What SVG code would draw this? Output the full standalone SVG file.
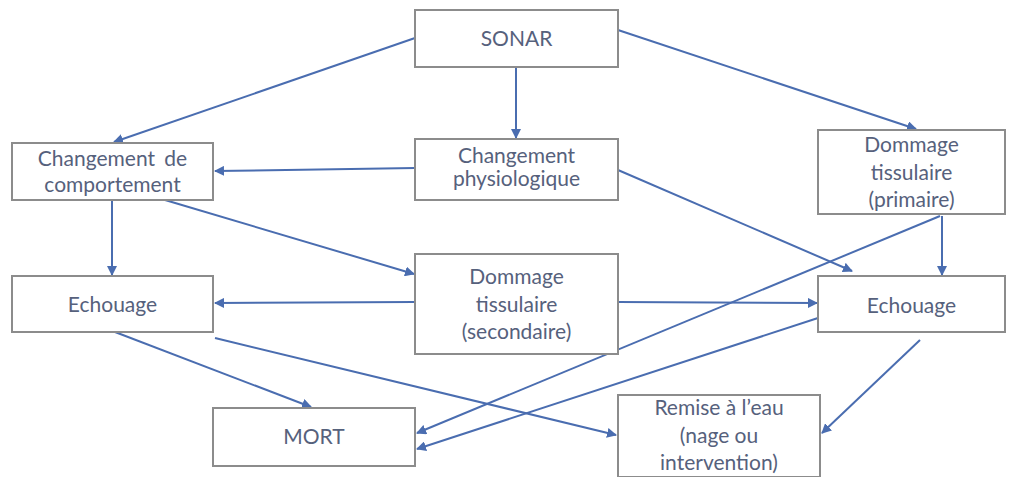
<svg xmlns="http://www.w3.org/2000/svg" width="1010" height="477" viewBox="0 0 1010 477">
<style>
.box{fill:#fff;stroke:#8c8c8c;stroke-width:2}
.t{font-family:Lato,"Liberation Sans",sans-serif;font-size:21px;fill:#56617c;text-anchor:middle}
.c{stroke:#4a6db0;stroke-width:2;fill:none;marker-end:url(#ah)}
</style>
<defs>
<marker id="ah" viewBox="0 0 10 10" refX="9" refY="5" markerWidth="5" markerHeight="5" orient="auto" markerUnits="strokeWidth">
<path d="M0,0 L10,5 L0,10 z" fill="#4a6db0"/>
</marker>
</defs>
<rect width="1010" height="477" fill="#fff"/>
<g id="connectors">
<line class="c" x1="415" y1="38" x2="114" y2="142"/>
<line class="c" x1="516" y1="67" x2="516" y2="138"/>
<line class="c" x1="618" y1="30" x2="916" y2="129"/>
<line class="c" x1="415" y1="168" x2="215" y2="171"/>
<line class="c" x1="618" y1="170" x2="852" y2="271"/>
<line class="c" x1="112" y1="200" x2="112" y2="275"/>
<line class="c" x1="165" y1="200" x2="414" y2="274"/>
<line class="c" x1="415" y1="302" x2="215" y2="303"/>
<line class="c" x1="618" y1="302" x2="817" y2="303"/>
<line class="c" x1="942" y1="216" x2="942" y2="275"/>
<line class="c" x1="940" y1="216" x2="417" y2="433"/>
<line class="c" x1="818" y1="318" x2="417" y2="449"/>
<line class="c" x1="115" y1="332" x2="311" y2="407"/>
<line class="c" x1="215" y1="338" x2="616" y2="435"/>
<line class="c" x1="920" y1="340" x2="822" y2="433"/>
</g>
<g id="sonar"><rect class="box" x="415" y="10" width="203" height="57"/><text class="t" x="516.5" y="46">SONAR</text></g>
<g id="physio"><rect class="box" x="415" y="139" width="203" height="61"/><text class="t" x="516.5" y="163">Changement</text><text class="t" x="516.5" y="186">physiologique</text></g>
<g id="comportement"><rect class="box" x="12" y="143" width="201" height="57"/><text class="t" x="112.5" y="166" word-spacing="4">Changement de</text><text class="t" x="112.5" y="192">comportement</text></g>
<g id="primaire"><rect class="box" x="818" y="130" width="187" height="84"/><text class="t" x="911.5" y="152">Dommage</text><text class="t" x="911.5" y="180">tissulaire</text><text class="t" x="911.5" y="207">(primaire)</text></g>
<g id="echouage-g"><rect class="box" x="12" y="276" width="201" height="56"/><text class="t" x="112.5" y="312">Echouage</text></g>
<g id="secondaire"><rect class="box" x="415" y="254" width="203" height="100"/><text class="t" x="516.5" y="284">Dommage</text><text class="t" x="516.5" y="312">tissulaire</text><text class="t" x="516.5" y="339">(secondaire)</text></g>
<g id="echouage-d"><rect class="box" x="818" y="276" width="187" height="56"/><text class="t" x="911.5" y="313">Echouage</text></g>
<g id="mort"><rect class="box" x="213" y="408" width="202" height="58"/><text class="t" x="314" y="444">MORT</text></g>
<g id="remise"><rect class="box" x="618" y="395" width="202" height="82"/><text class="t" x="719" y="415">Remise à l’eau</text><text class="t" x="719" y="443">(nage ou</text><text class="t" x="719" y="470">intervention)</text></g>
</svg>
